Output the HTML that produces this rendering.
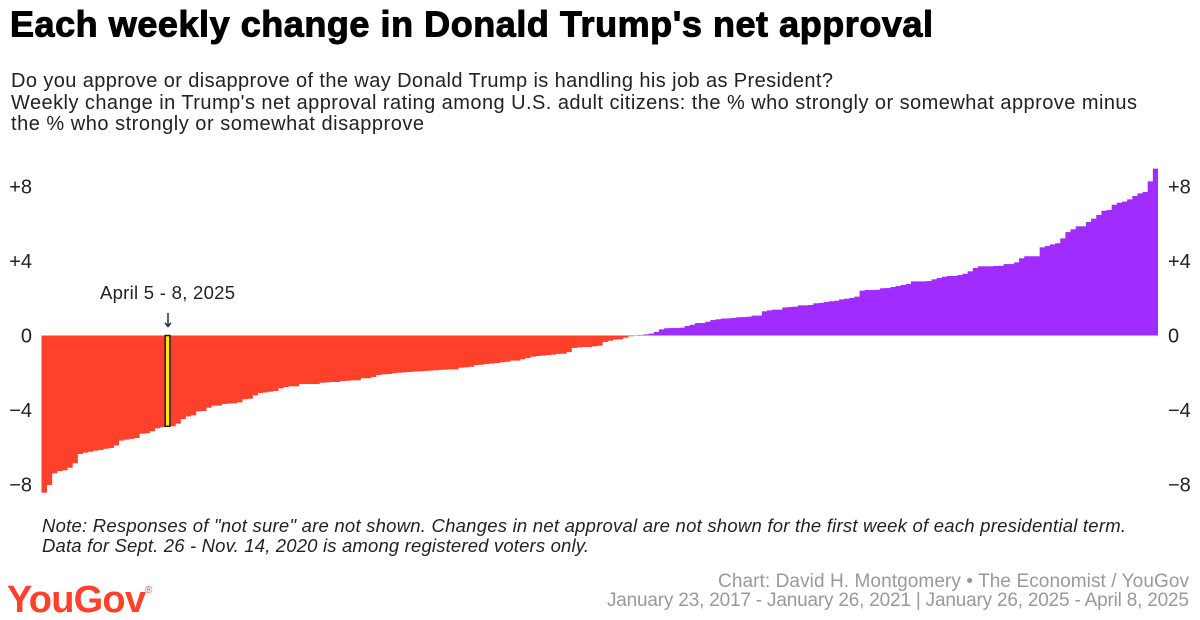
<!DOCTYPE html>
<html lang="en">
<head>
<meta charset="utf-8">
<title>Each weekly change in Donald Trump's net approval</title>
<style>
html,body{margin:0;padding:0;background:#fff;width:1200px;height:620px;overflow:hidden}
svg{display:block;font-family:"Liberation Sans",sans-serif}
</style>
</head>
<body>
<svg id="chart" width="1200" height="620" viewBox="0 0 1200 620" xmlns="http://www.w3.org/2000/svg">
  <rect width="1200" height="620" fill="#ffffff"/>
  <text x="10" y="36.5" font-size="36" font-weight="700" fill="#000" stroke="#000" stroke-width="1" textLength="923" lengthAdjust="spacing">Each weekly change in Donald Trump's net approval</text>
  <g font-size="20" fill="#222">
    <text x="11" y="87" textLength="822" lengthAdjust="spacing">Do you approve or disapprove of the way Donald Trump is handling his job as President?</text>
    <text x="11" y="109" textLength="1126" lengthAdjust="spacing">Weekly change in Trump's net approval rating among U.S. adult citizens: the % who strongly or somewhat approve minus</text>
    <text x="11" y="130" textLength="413" lengthAdjust="spacing">the % who strongly or somewhat disapprove</text>
  </g>
  <g id="bars"></g>
  <g id="ticks" font-size="20" fill="#222"></g>
  <text x="167.5" y="299" font-size="18.5" fill="#222" text-anchor="middle" textLength="135" lengthAdjust="spacing">April 5 - 8, 2025</text>
  <g id="arrow" stroke="#222" stroke-width="1.4" fill="none">
    <path d="M168 313V326M165 322.8L168 326.5L171 322.8"/>
  </g>
  <g font-size="18.5" font-style="italic" fill="#222">
    <text x="42" y="532" textLength="1084" lengthAdjust="spacing">Note: Responses of "not sure" are not shown. Changes in net approval are not shown for the first week of each presidential term.</text>
    <text x="42" y="552" textLength="547" lengthAdjust="spacing">Data for Sept. 26 - Nov. 14, 2020 is among registered voters only.</text>
  </g>
  <g fill="#ff412c">
    <text x="7" y="612" font-size="38" font-weight="700" textLength="139" lengthAdjust="spacing">YouGov</text>
    <text x="145" y="593" font-size="10">®</text>
  </g>
  <g font-size="19" fill="#999" text-anchor="end">
    <text x="1189" y="587" textLength="471" lengthAdjust="spacing">Chart: David H. Montgomery • The Economist / YouGov</text>
    <text x="1189" y="606" textLength="582" lengthAdjust="spacing">January 23, 2017 - January 26, 2021 | January 26, 2025 - April 8, 2025</text>
  </g>
</svg>
<script>
const declines = [-8.45,-8.04,-7.41,-7.29,-7.25,-7.11,-6.87,-6.37,-6.30,-6.25,-6.19,-6.16,-6.09,-6.05,-5.91,-5.65,-5.60,-5.56,-5.51,-5.28,-5.26,-5.15,-4.99,-4.93,-4.88,-4.88,-4.74,-4.49,-4.35,-4.29,-4.08,-4.06,-3.88,-3.77,-3.77,-3.68,-3.66,-3.65,-3.59,-3.43,-3.40,-3.22,-3.09,-3.06,-3.02,-2.98,-2.84,-2.77,-2.73,-2.73,-2.61,-2.61,-2.61,-2.61,-2.54,-2.52,-2.50,-2.50,-2.45,-2.43,-2.41,-2.41,-2.30,-2.30,-2.23,-2.12,-2.09,-2.07,-2.03,-2.00,-1.98,-1.96,-1.94,-1.93,-1.91,-1.89,-1.87,-1.85,-1.84,-1.82,-1.82,-1.73,-1.71,-1.68,-1.59,-1.57,-1.53,-1.51,-1.48,-1.44,-1.41,-1.35,-1.35,-1.28,-1.21,-1.14,-1.10,-1.08,-1.05,-1.03,-0.99,-0.98,-0.89,-0.67,-0.64,-0.62,-0.62,-0.58,-0.55,-0.35,-0.28,-0.22,-0.21,-0.12,-0.04,-0.02];
const gains = [0.03,0.06,0.10,0.19,0.33,0.39,0.40,0.40,0.42,0.51,0.58,0.67,0.67,0.74,0.83,0.87,0.91,0.92,0.94,0.98,0.99,1.01,1.07,1.07,1.30,1.35,1.39,1.39,1.51,1.53,1.55,1.62,1.62,1.64,1.73,1.75,1.80,1.84,1.87,1.94,1.98,2.02,2.09,2.41,2.45,2.45,2.46,2.54,2.55,2.61,2.66,2.72,2.77,2.91,2.91,2.91,2.93,3.02,3.09,3.16,3.20,3.20,3.25,3.32,3.45,3.63,3.72,3.72,3.72,3.74,3.75,3.84,3.84,3.93,4.15,4.26,4.26,4.26,4.74,4.81,4.90,4.96,5.22,5.56,5.71,5.87,5.87,6.10,6.28,6.48,6.71,6.75,7.03,7.14,7.20,7.32,7.50,7.64,7.72,8.29,8.97];
const tickValues = [8,4,0,-4,-8];
const tickLabels = ["+8","+4","0","\u22124","\u22128"];
const highlightWeek = 24;

const NS = "http://www.w3.org/2000/svg";
const weeklyChanges = declines.concat(gains);
const plotLeft = 41.5, plotRight = 1158, zeroY = 335.5, pxPerPoint = 18.6;
const barStep = (plotRight - plotLeft) / weeklyChanges.length;
function xScale(i){ return plotLeft + i * barStep; }
function yScale(v){ return zeroY - v * pxPerPoint; }

const barsGroup = document.getElementById("bars");
weeklyChanges.forEach(function(v, i){
  const r = document.createElementNS(NS, "rect");
  
  
  const top = Math.min(yScale(v), yScale(0));
  r.setAttribute("x", xScale(i));
  r.setAttribute("y", top);
  r.setAttribute("width", barStep + (i === weeklyChanges.length - 1 ? 0 : 0.35));
  r.setAttribute("height", Math.abs(yScale(v) - yScale(0)));
  r.setAttribute("fill", v < 0 ? "#ff412c" : "#a02cff");
  barsGroup.appendChild(r);
});

const hv = weeklyChanges[highlightWeek];
const hr = document.createElementNS(NS, "rect");


hr.setAttribute("x", xScale(highlightWeek) + 0.2);
hr.setAttribute("y", yScale(0));
hr.setAttribute("width", barStep - 0.4);
hr.setAttribute("height", yScale(hv) - yScale(0));
hr.setAttribute("fill", "#ffe600");
hr.setAttribute("stroke", "#1a1a1a");
hr.setAttribute("stroke-width", "1.5");
barsGroup.appendChild(hr);

const ticksGroup = document.getElementById("ticks");
tickValues.forEach(function(v, i){
  const l = document.createElementNS(NS, "text");
  
  
  l.setAttribute("x", 32);
  l.setAttribute("y", yScale(v) + 7);
  l.setAttribute("text-anchor", "end");
  l.textContent = tickLabels[i];
  ticksGroup.appendChild(l);
  const r = document.createElementNS(NS, "text");
  
  
  r.setAttribute("x", 1168);
  r.setAttribute("y", yScale(v) + 7);
  r.textContent = tickLabels[i];
  ticksGroup.appendChild(r);
});
</script>
</body>
</html>
